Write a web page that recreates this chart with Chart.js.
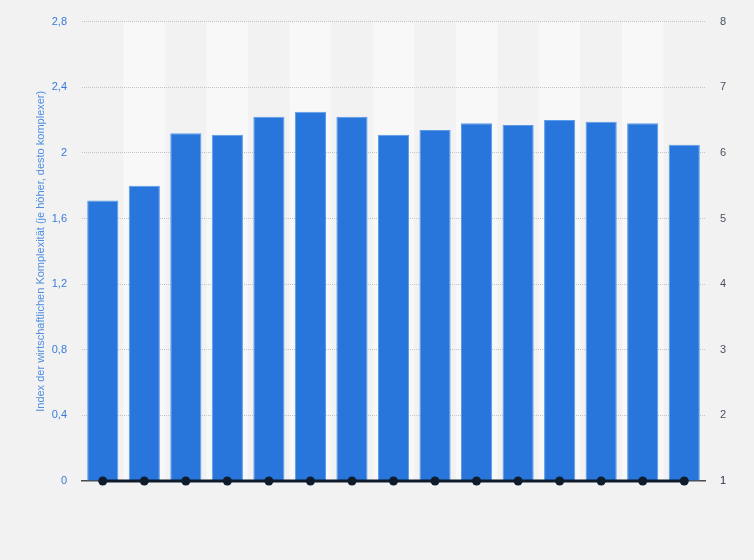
<!DOCTYPE html>
<html>
<head>
<meta charset="utf-8">
<script src="https://cdn.jsdelivr.net/npm/chart.js@4/dist/chart.umd.min.js"></script>
<style>
  html, body { margin: 0; padding: 0; background: #f2f2f2; }
  #wrap { width: 754px; height: 560px; }
</style>
</head>
<body>
<div id="wrap"><canvas id="chart"></canvas></div>
<script>
// Jahre (auf der Achse nicht beschriftet)
const categories = ['2003', '2004', '2005', '2006', '2007', '2008', '2009', '2010',
  '2011', '2012', '2013', '2014', '2015', '2016', '2017'];
// Index der wirtschaftlichen Komplexität
const indexValues = [1.71, 1.80, 2.12, 2.11, 2.22, 2.25, 2.22, 2.11, 2.14, 2.18, 2.17, 2.20, 2.19, 2.18, 2.05];
// Rang (rechte Achse)
const rankValues = [1, 1, 1, 1, 1, 1, 1, 1, 1, 1, 1, 1, 1, 1, 1];
const leftTicks = [0, 0.4, 0.8, 1.2, 1.6, 2, 2.4, 2.8];
const rightTicks = [1, 2, 3, 4, 5, 6, 7, 8];

const FONT = "'Liberation Sans', Arial, sans-serif";

// abwechselnd helle Spalten im Hintergrund (vor dem Gitter gezeichnet)
const bandPlugin = {
  id: 'bands',
  beforeDraw(chart) {
    const { ctx, chartArea, scales } = chart;
    const x = scales.x;
    const step = chartArea.width / categories.length;
    ctx.save();
    categories.forEach((c, i) => {
      if (i % 2 === 1) {
        const cx = x.getPixelForValue(i);
        ctx.fillStyle = '#f8f8f8';
        ctx.fillRect(cx - step / 2, chartArea.top, step, chartArea.bottom - chartArea.top);
      }
    });
    ctx.restore();
  }
};

new Chart(document.getElementById('chart').getContext('2d'), {
  data: {
    labels: categories,
    datasets: [
      {
        type: 'line',
        label: 'Rang',
        data: rankValues,
        yAxisID: 'y1',
        borderColor: '#0f1c2b',
        backgroundColor: '#0f1c2b',
        borderWidth: 3,
        pointRadius: 4.5,
        pointBackgroundColor: '#0f1c2b',
        pointBorderWidth: 0,
        clip: false,
        order: 0
      },
      {
        type: 'bar',
        label: 'Index',
        data: indexValues,
        yAxisID: 'y',
        backgroundColor: '#2876dc',
        borderColor: '#5c9be8',
        borderWidth: 1,
        barPercentage: 0.75,
        categoryPercentage: 1,
        order: 1
      }
    ]
  },
  options: {
    responsive: true,
    maintainAspectRatio: false,
    animation: false,
    layout: { padding: { top: 20, left: 30, right: 0, bottom: 0 } },
    plugins: {
      legend: { display: false },
      tooltip: { enabled: false }
    },
    scales: {
      x: {
        grid: { display: false },
        border: { display: true, color: '#4a4a4a', width: 1.5 },
        ticks: { display: false },
        afterFit(scale) { scale.height = 79; }
      },
      y: {
        position: 'left',
        min: 0,
        max: 2.8,
        afterBuildTicks(scale) { scale.ticks = leftTicks.map(v => ({ value: v })); },
        ticks: {
          padding: 15,
          color: '#3a7bd8',
          font: { family: FONT, size: 11 },
          callback: v => String(v).replace('.', ',')
        },
        grid: {
          drawTicks: false,
          color: ctx => ctx.tick && ctx.tick.value === 0 ? 'rgba(0,0,0,0)' : '#c4c4c4',
          lineWidth: 1
        },
        border: { display: false, dash: [1, 1] },
        title: {
          display: true,
          text: 'Index der wirtschaftlichen Komplexität (je höher, desto komplexer)',
          color: '#4f8ee0',
          font: { family: FONT, size: 11 },
          padding: { top: 4, bottom: 0 }
        },
        afterFit(scale) { scale.width = 52; }
      },
      y1: {
        position: 'right',
        min: 1,
        max: 8,
        afterBuildTicks(scale) { scale.ticks = rightTicks.map(v => ({ value: v })); },
        ticks: {
          padding: 15,
          color: ctx => ctx.tick.value === 1 ? '#1b2b42' : '#4a5260',
          font: { family: FONT, size: 11 }
        },
        grid: { display: false, drawTicks: false },
        border: { display: false },
        afterFit(scale) { scale.width = 49; }
      }
    }
  },
  plugins: [bandPlugin]
});
</script>
</body>
</html>
